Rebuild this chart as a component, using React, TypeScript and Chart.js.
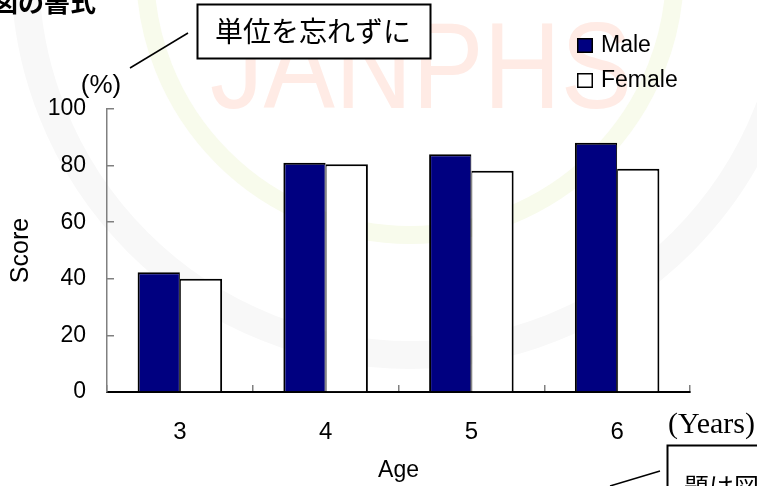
import React, { useEffect, useRef } from 'react';
import { Chart, registerables } from 'chart.js';

Chart.register(...registerables);

// ---- data ----
const categories = ['3', '4', '5', '6'];
const seriesNames = ['Male', 'Female'];
const maleScores = [42.3, 81.0, 84.0, 88.1];
const femaleScores = [40.0, 80.5, 78.2, 78.9];
const yTickValues = [0, 20, 40, 60, 80, 100];

// ---- texts ----
const yTitle = 'Score';
const xTitle = 'Age';
const yUnit = '(%)';
const xUnit = '(Years)';
const unitNote = '単位を忘れずに';
const titleNote = '題は図の下に';
const pageHeading = '図の書式';
const watermarkText = 'JANPHS';

const SANS = '"Liberation Sans", Arial, sans-serif';
const SERIF = '"Liberation Serif", "Times New Roman", serif';
const CJK = '"Noto Sans CJK JP", sans-serif';

const decorPlugin = {
  id: 'decor',
  beforeDraw(chart: any) {
    const ctx = chart.ctx as CanvasRenderingContext2D;
    ctx.save();
    ctx.fillStyle = '#ffffff';
    ctx.fillRect(0, 0, chart.width, chart.height);
    // faint watermark rings
    ctx.strokeStyle = '#f8f8f8';
    ctx.lineWidth = 28;
    ctx.beginPath();
    ctx.arc(410, -30, 385, 0, Math.PI * 2);
    ctx.stroke();
    ctx.strokeStyle = '#f8fbec';
    ctx.lineWidth = 18;
    ctx.beginPath();
    ctx.arc(410, -30, 265, 0, Math.PI * 2);
    ctx.stroke();
    // watermark text
    ctx.fillStyle = '#ffebe5';
    ctx.font = `123px ${SANS}`;
    ctx.textBaseline = 'alphabetic';
    ctx.textAlign = 'left';
    ctx.translate(210, 108);
    ctx.scale(0.87, 1);
    ctx.fillText(watermarkText, 0, 0);
    ctx.restore();
  },
  afterDraw(chart: any) {
    const ctx = chart.ctx as CanvasRenderingContext2D;
    const area = chart.chartArea;
    ctx.save();
    ctx.fillStyle = '#000';
    ctx.strokeStyle = '#000';

    // page heading (cut off at top)
    ctx.font = `bold 26px ${CJK}`;
    ctx.textAlign = 'left';
    ctx.textBaseline = 'middle';
    ctx.fillText(pageHeading, -8, 2);

    // unit note box
    ctx.lineWidth = 1.5;
    ctx.beginPath();
    ctx.moveTo(130, 68);
    ctx.lineTo(188, 33);
    ctx.stroke();
    ctx.fillStyle = '#fff';
    ctx.fillRect(197.5, 4.5, 233, 54);
    ctx.lineWidth = 2;
    ctx.strokeRect(197.5, 4.5, 233, 54);
    ctx.fillStyle = '#000';
    ctx.font = `28px ${CJK}`;
    ctx.textAlign = 'center';
    ctx.textBaseline = 'middle';
    ctx.fillText(unitNote, 313, 31);

    // title note box (bottom right, partly outside)
    ctx.lineWidth = 1.5;
    ctx.beginPath();
    ctx.moveTo(610, 486);
    ctx.lineTo(660, 471);
    ctx.stroke();
    ctx.fillStyle = '#fff';
    ctx.fillRect(667.5, 445.5, 120, 60);
    ctx.lineWidth = 2;
    ctx.strokeRect(667.5, 445.5, 120, 60);
    ctx.fillStyle = '#000';
    ctx.font = `25px ${CJK}`;
    ctx.textAlign = 'left';
    ctx.textBaseline = 'middle';
    ctx.fillText(titleNote, 684, 486);

    // units
    ctx.font = `26px ${SANS}`;
    ctx.textAlign = 'center';
    ctx.textBaseline = 'middle';
    ctx.fillText(yUnit, 101, 86);
    ctx.font = `30px ${SERIF}`;
    ctx.textAlign = 'left';
    ctx.fillText(xUnit, 668, 425);

    // axis titles
    ctx.font = `23px ${SANS}`;
    ctx.textAlign = 'center';
    ctx.textBaseline = 'alphabetic';
    ctx.fillText(xTitle, (area.left + area.right) / 2, 477);
    ctx.save();
    ctx.translate(21, (area.top + area.bottom) / 2);
    ctx.rotate(-Math.PI / 2);
    ctx.font = `25px ${SANS}`;
    ctx.textBaseline = 'middle';
    ctx.fillText(yTitle, 0, 0);
    ctx.restore();

    // legend
    const ds = chart.data.datasets;
    const rows = [45, 80];
    ds.forEach((d: any, i: number) => {
      const y = rows[i];
      ctx.fillStyle = d.backgroundColor;
      ctx.fillRect(577, y - 7, 16, 15);
      ctx.lineWidth = 1.5;
      ctx.strokeStyle = '#000';
      ctx.strokeRect(577.75, y - 6.25, 14.5, 13.5);
      ctx.fillStyle = '#000';
      ctx.font = `23px ${SANS}`;
      ctx.textAlign = 'left';
      ctx.textBaseline = 'middle';
      ctx.fillText(d.label, 601, y + 1);
    });
    ctx.restore();
  },
};

export default function App() {
  const canvasRef = useRef<HTMLCanvasElement | null>(null);

  useEffect(() => {
    document.body.style.margin = '0';
    const canvas = canvasRef.current;
    if (!canvas) return;
    const chart = new Chart(canvas, {
      type: 'bar',
      data: {
        labels: categories,
        datasets: [
          {
            label: seriesNames[0],
            data: maleScores,
            backgroundColor: '#000080',
            borderColor: '#000',
            borderWidth: { top: 2, left: 2, right: 1, bottom: 0 },
            borderSkipped: false,
            categoryPercentage: 0.58,
            barPercentage: 1,
          },
          {
            label: seriesNames[1],
            data: femaleScores,
            backgroundColor: '#ffffff',
            borderColor: '#000',
            borderWidth: { top: 2, left: 1, right: 2, bottom: 0 },
            borderSkipped: false,
            categoryPercentage: 0.58,
            barPercentage: 1,
          },
        ],
      },
      options: {
        responsive: false,
        animation: false,
        devicePixelRatio: 1,
        layout: { padding: { top: 109, right: 67, left: 0, bottom: 0 } },
        plugins: {
          legend: { display: false },
          tooltip: { enabled: false },
          title: { display: false },
        },
        scales: {
          x: {
            offset: true,
            grid: {
              display: true,
              offset: true,
              drawOnChartArea: false,
              drawTicks: true,
              tickLength: -7,
              color: '#808080',
              lineWidth: 1.5,
            },
            border: { display: true, color: '#000', width: 2 },
            ticks: {
              color: '#000',
              font: { family: SANS, size: 24 },
              padding: 33,
              maxRotation: 0,
            },
            afterFit: (s: any) => {
              s.height = 94;
            },
          },
          y: {
            min: 0,
            max: 100,
            afterBuildTicks: (s: any) => {
              s.ticks = yTickValues.map((v) => ({ value: v }));
            },
            grid: {
              display: true,
              drawOnChartArea: false,
              drawTicks: true,
              tickLength: -7,
              color: '#808080',
              lineWidth: 1.5,
            },
            border: { display: true, color: '#808080', width: 1.5 },
            ticks: {
              color: '#000',
              font: { family: SANS, size: 23 },
              padding: 28,
            },
            afterFit: (s: any) => {
              s.width = 107;
            },
          },
        },
      },
      plugins: [decorPlugin],
    } as any);
    return () => chart.destroy();
  }, []);

  return (
    <div style={{ width: 757, height: 486, overflow: 'hidden' }}>
      <canvas ref={canvasRef} width={757} height={486} style={{ display: 'block' }} />
    </div>
  );
}
